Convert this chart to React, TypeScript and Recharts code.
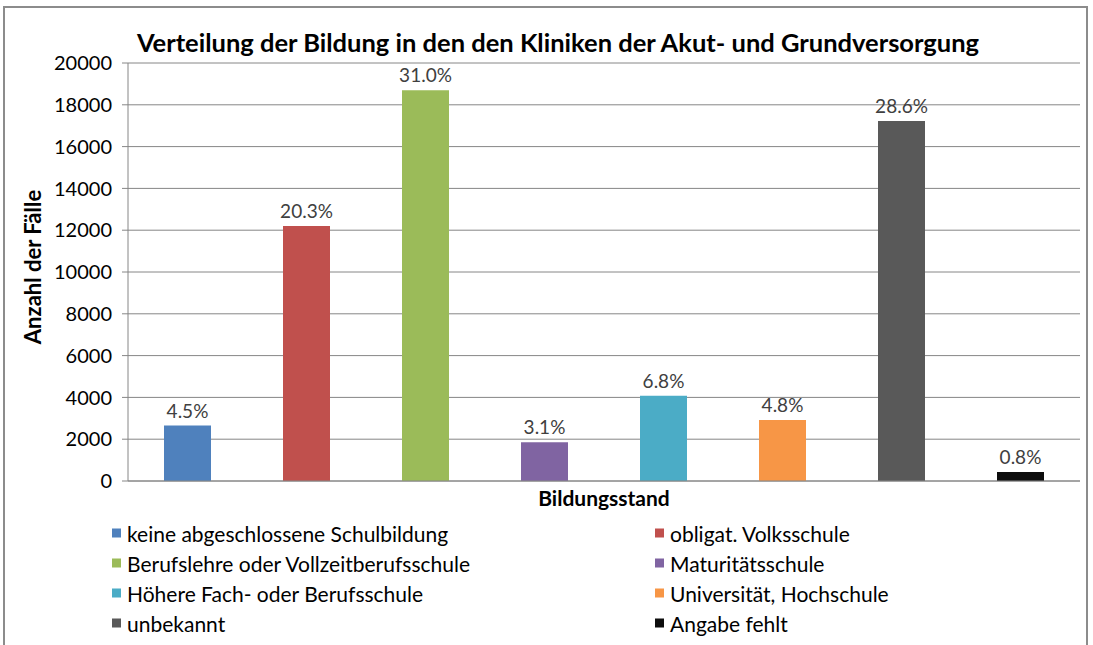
import { Bar, BarChart, CartesianGrid, Cell, LabelList, XAxis, YAxis } from "recharts";

const categories = [
  "keine abgeschlossene Schulbildung",
  "obligat. Volksschule",
  "Berufslehre oder Vollzeitberufsschule",
  "Maturitätsschule",
  "Höhere Fach- oder Berufsschule",
  "Universität, Hochschule",
  "unbekannt",
  "Angabe fehlt",
];

const counts = [2650, 12200, 18700, 1850, 4080, 2920, 17230, 430];

const shares = ["4.5%", "20.3%", "31.0%", "3.1%", "6.8%", "4.8%", "28.6%", "0.8%"];

const colors = ["#4F81BD", "#C0504D", "#9BBB59", "#8064A2", "#4BACC6", "#F79646", "#595959", "#0D0D0D"];

const yTicks = [0, 2000, 4000, 6000, 8000, 10000, 12000, 14000, 16000, 18000, 20000];

const data = categories.map((name, i) => ({ name, value: counts[i], share: shares[i] }));

const FONT = "Lato, 'Open Sans', sans-serif";
const GRID = "#868686";

export default function App() {
  return (
    <div style={{ position: "absolute", left: 0, top: 0, width: 1093, height: 645, background: "#fff", fontFamily: FONT, overflow: "hidden" }}>
      <div style={{ position: "absolute", left: 3, top: 6, width: 1085, height: 660, border: "2px solid #8c8c8c", boxSizing: "border-box" }} />
      <div style={{ position: "absolute", left: 0, width: 1116, top: 27, textAlign: "center", fontSize: 25.5, fontWeight: 700, color: "#000" }}>
        Verteilung der Bildung in den den Kliniken der Akut- und Grundversorgung
      </div>
      <div
        style={{
          position: "absolute",
          left: 32,
          top: 267,
          transform: "translate(-50%, -50%) rotate(-90deg)",
          whiteSpace: "nowrap",
          fontSize: 22,
          fontWeight: 700,
        }}
      >
        Anzahl der Fälle
      </div>
      <div style={{ position: "absolute", left: 604, top: 497, transform: "translate(-50%, -50%)", fontSize: 21, fontWeight: 700 }}>
        Bildungsstand
      </div>
      <div style={{ position: "absolute", left: 0, top: 0 }}>
        <BarChart width={1093} height={645} data={data} margin={{ top: 63, right: 13, bottom: 156, left: 0 }}>
          <CartesianGrid vertical={false} stroke={GRID} strokeDasharray="" />
          <XAxis dataKey="name" tick={false} tickLine={false} axisLine={{ stroke: GRID }} height={8} />
          <YAxis
            width={128}
            domain={[0, 20000]}
            ticks={yTicks}
            interval={0}
            tick={{ fill: "#000", fontSize: 20, fontFamily: FONT }}
            tickLine={{ stroke: GRID }}
            tickSize={6}
            tickMargin={10}
            axisLine={{ stroke: GRID }}
          />
          <Bar dataKey="value" barSize={47} isAnimationActive={false}>
            {data.map((d, i) => (
              <Cell key={d.name} fill={colors[i]} />
            ))}
            <LabelList dataKey="share" position="top" offset={8} fill="#404040" fontSize={19} fontFamily={FONT} />
          </Bar>
        </BarChart>
      </div>
      {categories.map((name, i) => {
        const col = i % 2;
        const row = Math.floor(i / 2);
        return (
          <div
            key={name}
            style={{
              position: "absolute",
              left: col === 0 ? 112 : 655,
              top: 533 + row * 30,
              transform: "translateY(-50%)",
              display: "flex",
              alignItems: "center",
              fontSize: 21,
              color: "#000",
              whiteSpace: "nowrap",
            }}
          >
            <span style={{ display: "inline-block", width: 9, height: 9, background: colors[i], marginRight: 6 }} />
            {name}
          </div>
        );
      })}
    </div>
  );
}
